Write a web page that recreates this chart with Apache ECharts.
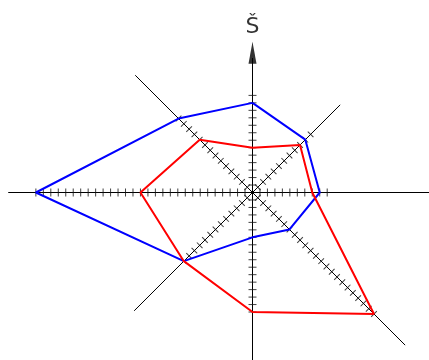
<!DOCTYPE html>
<html>
<head>
<meta charset="utf-8">
<script src="https://cdn.jsdelivr.net/npm/echarts@6/dist/echarts.min.js"></script>
<style>
  html, body { margin: 0; padding: 0; background: #fff; }
  #chart { width: 429px; height: 360px; }
</style>
</head>
<body>
<div id="chart"></div>
<script>
// axes: N, NE, E, SE, S, SW, W, NW (angle measured clockwise from north)
const directions = ['N', 'NE', 'E', 'SE', 'S', 'SW', 'W', 'NW']
const angles = [0, 45, 90, 135, 180, 225, 270, 315]
const blueValues = [12, 10, 9, 7, 6, 13, 29, 14]
const redValues = [6, 9, 8, 23, 16, 13, 15, 10]
const tickCounts = [13, 11, 10, 23, 16, 13, 29, 14]
const spokeLengths = [18, 16.6, 25, 28.9, 24, 22.4, 32.7, 22.2]
const northLabel = 'Š'
const arrowAt = 18.7

const UNIT = 7.47 // px per tick step
const RADIUS_UNITS = 34

const chart = echarts.init(document.getElementById('chart'))

// closed polygon from values per axis
const polygon = (vals) => {
  const pts = vals.map((v, i) => [v, angles[i]])
  pts.push(pts[0])
  return pts
}

const tickData = []
tickCounts.forEach((n, i) => {
  for (let k = 1; k <= n; k++) tickData.push([k, angles[i]])
})

const spokeSeries = spokeLengths.map((len, i) => ({
  name: 'axis-' + directions[i],
  type: 'line',
  coordinateSystem: 'polar',
  data: [[0, angles[i]], [len, angles[i]]],
  showSymbol: false,
  silent: true,
  z: 1,
  lineStyle: { color: '#000', width: 1 },
}))

const option = {
  animation: false,
  backgroundColor: '#fff',
  polar: {
    center: [252.5, 192.5],
    radius: RADIUS_UNITS * UNIT,
  },
  angleAxis: {
    type: 'value',
    min: 0,
    max: 360,
    startAngle: 90,
    clockwise: true,
    show: false,
  },
  radiusAxis: {
    type: 'value',
    min: 0,
    max: RADIUS_UNITS,
    show: false,
  },
  series: [
    ...spokeSeries,
    {
      name: 'ticks',
      type: 'scatter',
      coordinateSystem: 'polar',
      data: tickData,
      symbol: 'rect',
      symbolSize: [1, 8],
      symbolRotate: (val) => 90 - val[1],
      itemStyle: { color: '#111' },
      silent: true,
      z: 2,
    },
    {
      name: 'arrow',
      type: 'scatter',
      coordinateSystem: 'polar',
      data: [[arrowAt, 0]],
      symbol: 'triangle',
      symbolSize: [8, 22],
      itemStyle: { color: '#000' },
      label: {
        show: true,
        position: 'top',
        distance: 4,
        formatter: northLabel,
        fontFamily: 'DejaVu Sans',
        fontSize: 22,
        color: '#000',
      },
      silent: true,
      z: 3,
    },
    {
      name: 'blue',
      type: 'line',
      coordinateSystem: 'polar',
      data: polygon(blueValues),
      showSymbol: false,
      lineStyle: { color: '#0000ff', width: 2 },
      z: 4,
    },
    {
      name: 'red',
      type: 'line',
      coordinateSystem: 'polar',
      data: polygon(redValues),
      showSymbol: false,
      lineStyle: { color: '#ff0000', width: 2 },
      z: 4,
    },
  ],
}

chart.setOption(option)
</script>
</body>
</html>
